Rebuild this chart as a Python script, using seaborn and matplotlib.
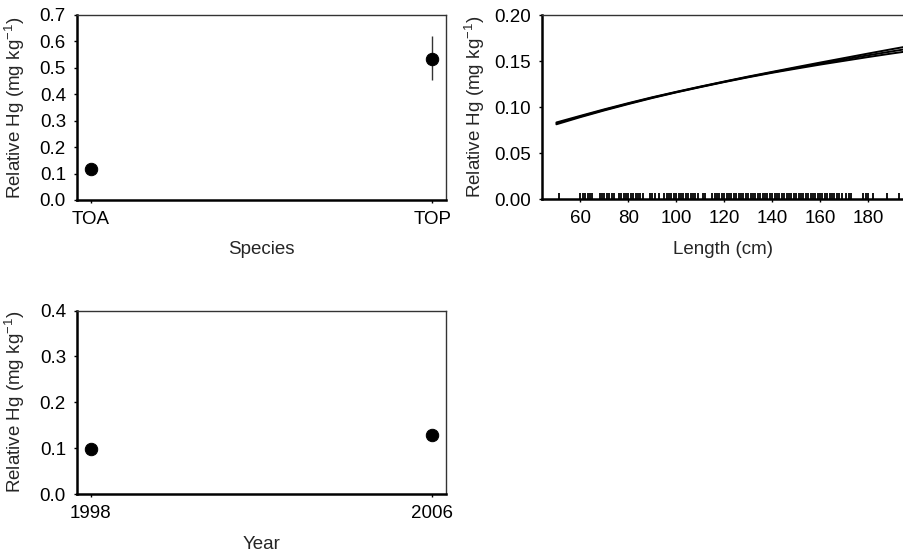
import numpy as np
import pandas as pd
import matplotlib
matplotlib.use("Agg")
import matplotlib.pyplot as plt
import seaborn as sns

# --- data ---
species = ["TOA", "TOP"]
species_hg = [0.118, 0.533]
species_lo = [0.118, 0.455]
species_hi = [0.118, 0.622]

years = [1998, 2006]
year_hg = [0.098, 0.128]

length_cm = [50, 60, 70, 80, 90, 100, 110, 120, 130, 140, 150, 160, 170, 180, 190, 196]
fit_hg = [0.0825, 0.0900, 0.0972, 0.1040, 0.1105, 0.1165, 0.1222, 0.1277, 0.1330, 0.1380,
          0.1428, 0.1475, 0.1520, 0.1565, 0.1608, 0.1633]
fit_lo = [0.0815, 0.0893, 0.0966, 0.1035, 0.1101, 0.1162, 0.1219, 0.1274, 0.1326, 0.1375,
          0.1420, 0.1464, 0.1505, 0.1546, 0.1585, 0.1607]
fit_hi = [0.0835, 0.0907, 0.0978, 0.1045, 0.1109, 0.1168, 0.1225, 0.1280, 0.1334, 0.1385,
          0.1436, 0.1486, 0.1535, 0.1584, 0.1632, 0.1660]

rug_lengths = [51, 60, 61, 62, 63, 64, 65, 68, 69, 70, 71, 72, 73, 74,
               76, 77, 78, 79, 80, 81, 82, 83, 84, 85, 86, 89, 90, 91, 93,
               95, 96, 97, 98, 99, 100, 101, 102, 103, 104, 105, 106, 107, 108, 109,
               111, 112, 115, 116, 117, 118, 119, 120, 121, 122, 123, 124, 125, 126,
               127, 128, 129, 130, 131, 132, 133, 134, 135, 136, 137, 138, 139, 140,
               141, 142, 143, 144, 145, 146, 147, 148, 149, 150, 151, 152, 153, 154,
               155, 156, 157, 158, 159, 160, 161, 162, 163, 164, 165, 166, 167, 168, 169,
               171, 172, 173, 178, 179, 180, 182, 188, 193]

sns.set_style("white")
plt.rcParams["font.family"] = ["Liberation Sans", "DejaVu Sans"]
plt.rcParams["mathtext.fontset"] = "custom"
plt.rcParams["mathtext.rm"] = "Liberation Sans"
plt.rcParams["mathtext.it"] = "Liberation Sans"

fs = 13.5
ylab = "Relative Hg (mg kg$^{-1}$)"

fig = plt.figure(figsize=(9.04, 5.54), dpi=100)
ax1 = fig.add_axes([0.0852, 0.639, 0.408, 0.334])
ax2 = fig.add_axes([0.5996, 0.6403, 0.4004, 0.3321])
ax3 = fig.add_axes([0.0852, 0.1083, 0.408, 0.331])


def style(ax, right=True):
    for s in ["left", "bottom"]:
        ax.spines[s].set_linewidth(1.8)
        ax.spines[s].set_color("black")
    for s in ["top", "right"]:
        ax.spines[s].set_linewidth(1.0)
        ax.spines[s].set_color("#333333")
    if not right:
        ax.spines["right"].set_visible(False)
    ax.tick_params(axis="both", direction="out", length=2, width=1, labelsize=fs,
                   bottom=True, left=True, colors="black", pad=6)


# species panel
sp = pd.DataFrame({"Species": species, "Hg": species_hg, "lo": species_lo, "hi": species_hi})
sns.scatterplot(data=sp, x="Species", y="Hg", ax=ax1, color="black", s=80, edgecolor="black", zorder=3)
ax1.vlines(sp["Species"], sp["lo"], sp["hi"], color="#333333", linewidth=1)
ax1.set_xlim(-0.04, 1.04)
ax1.set_ylim(0, 0.7)
ax1.set_yticks(np.arange(0, 0.71, 0.1))
ax1.set_yticklabels([f"{v:.1f}" for v in np.arange(0, 0.71, 0.1)])
style(ax1)
ax1.set_xlabel("Species", fontsize=fs)
ax1.set_ylabel(ylab, fontsize=fs)
ax1.xaxis.set_label_coords(0.5, -0.22)
ax1.yaxis.set_label_coords(-0.136, 0.5)

# length panel
ln = pd.DataFrame({"Length": length_cm, "fit": fit_hg, "lo": fit_lo, "hi": fit_hi})
for col in ["fit", "lo", "hi"]:
    sns.lineplot(data=ln, x="Length", y=col, ax=ax2, color="black", linewidth=1.4)
sns.rugplot(x=rug_lengths, ax=ax2, height=0.035, color="black", linewidth=1.3)
ax2.set_xlim(44, 195)
ax2.set_ylim(0, 0.2)
ax2.set_xticks([60, 80, 100, 120, 140, 160, 180])
ax2.set_yticks([0, 0.05, 0.10, 0.15, 0.20])
ax2.set_yticklabels(["0.00", "0.05", "0.10", "0.15", "0.20"])
style(ax2, right=False)
ax2.set_xlabel("Length (cm)", fontsize=fs)
ax2.set_ylabel(ylab, fontsize=fs)
ax2.xaxis.set_label_coords(0.5, -0.225)
ax2.yaxis.set_label_coords(-0.152, 0.5)

# year panel
yr = pd.DataFrame({"Year": years, "Hg": year_hg})
sns.scatterplot(data=yr, x="Year", y="Hg", ax=ax3, color="black", s=80, edgecolor="black", zorder=3)
ax3.set_xlim(1998 - 0.32, 2006 + 0.33)
ax3.set_xticks(years)
ax3.set_ylim(0, 0.4)
ax3.set_yticks([0, 0.1, 0.2, 0.3, 0.4])
ax3.set_yticklabels(["0.0", "0.1", "0.2", "0.3", "0.4"])
style(ax3)
ax3.set_xlabel("Year", fontsize=fs)
ax3.set_ylabel(ylab, fontsize=fs)
ax3.xaxis.set_label_coords(0.5, -0.23)
ax3.yaxis.set_label_coords(-0.136, 0.5)

fig.savefig("out.png", dpi=100)
